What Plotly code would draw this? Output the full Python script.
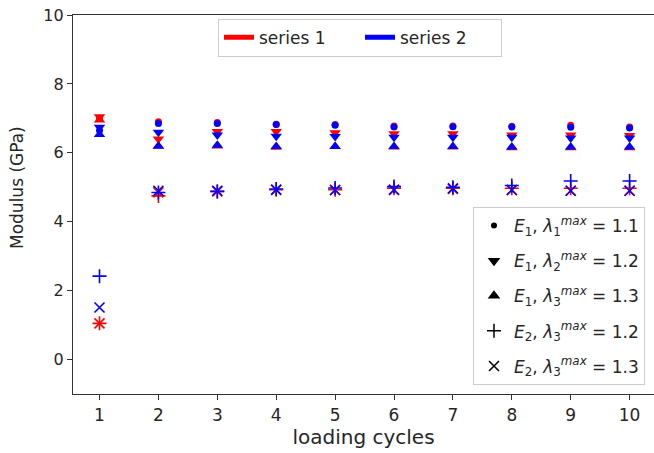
import plotly.graph_objects as go

cycles = [1, 2, 3, 4, 5, 6, 7, 8, 9, 10]

# series 1 (red)
s1_E1_l1 = [7.00, 6.90, 6.88, 6.83, 6.82, 6.78, 6.78, 6.77, 6.80, 6.75]
s1_E1_l2 = [7.05, 6.40, 6.62, 6.62, 6.58, 6.55, 6.55, 6.52, 6.52, 6.50]
s1_E1_l3 = [6.95, 6.20, 6.20, 6.16, 6.18, 6.17, 6.17, 6.15, 6.15, 6.15]
s1_E2_l2 = [1.05, 4.75, 4.88, 4.93, 4.93, 4.97, 4.97, 4.97, 4.97, 4.97]
s1_E2_l3 = [1.05, 4.85, 4.88, 4.92, 4.92, 4.93, 4.95, 4.92, 4.90, 4.90]

# series 2 (blue)
s2_E1_l1 = [6.65, 6.85, 6.85, 6.82, 6.80, 6.75, 6.76, 6.75, 6.74, 6.72]
s2_E1_l2 = [6.74, 6.60, 6.52, 6.48, 6.47, 6.45, 6.45, 6.45, 6.43, 6.43]
s2_E1_l3 = [6.53, 6.19, 6.22, 6.18, 6.18, 6.18, 6.18, 6.17, 6.17, 6.17]
s2_E2_l2 = [2.42, 4.85, 4.88, 4.95, 4.98, 5.02, 5.00, 5.05, 5.18, 5.18]
s2_E2_l3 = [1.51, 4.90, 4.90, 4.93, 4.92, 4.92, 4.97, 4.92, 4.90, 4.90]

series_names = ["series 1", "series 2"]
series_colors = ["#ff0000", "#0000ff"]

marker_labels = [
    "<i>E</i><sub>1</sub>, <i>λ</i><sub>1</sub><sup><i>max</i></sup> = 1.1",
    "<i>E</i><sub>1</sub>, <i>λ</i><sub>2</sub><sup><i>max</i></sup> = 1.2",
    "<i>E</i><sub>1</sub>, <i>λ</i><sub>3</sub><sup><i>max</i></sup> = 1.3",
    "<i>E</i><sub>2</sub>, <i>λ</i><sub>3</sub><sup><i>max</i></sup> = 1.2",
    "<i>E</i><sub>2</sub>, <i>λ</i><sub>3</sub><sup><i>max</i></sup> = 1.3",
]
symbols = ["circle", "triangle-down", "triangle-up", "cross-thin", "x-thin"]
sizes = [7, 10, 10, 10, 10]

FONT = "DejaVu Sans"
fig = go.Figure()

all_series = [
    [s1_E1_l1, s1_E1_l2, s1_E1_l3, s1_E2_l2, s1_E2_l3],
    [s2_E1_l1, s2_E1_l2, s2_E1_l3, s2_E2_l2, s2_E2_l3],
]

for color, data in zip(series_colors, all_series):
    for sym, sz, ys in zip(symbols, sizes, data):
        thin = sym.endswith("-thin")
        fig.add_trace(go.Scatter(
            x=cycles, y=ys, mode="markers", showlegend=False,
            marker=dict(symbol=sym, size=sz, color=color,
                        line=dict(width=1.6 if thin else 0, color=color)),
        ))

# legend 1: series colours
for name, color in zip(series_names, series_colors):
    fig.add_trace(go.Scatter(
        x=[None], y=[None], mode="lines", name=name,
        line=dict(color=color, width=5), legend="legend",
    ))

# legend 2: marker styles
leg_sizes = [6, 11, 11, 10, 10]
for i, (lab, sym, sz) in enumerate(zip(marker_labels, symbols, leg_sizes)):
    thin = sym.endswith("-thin")
    fig.add_trace(go.Scatter(
        x=[None], y=[None], mode="markers", name=lab,
        marker=dict(symbol=sym, size=sz, color="black",
                    line=dict(width=1.5 if thin else 0, color="black")),
        legend="legend2", legendgroup=f"g{i}",
    ))

axis_col = "#333333"
fig.update_layout(
    width=654, height=453,
    margin=dict(l=73, r=0, t=15, b=59),
    paper_bgcolor="white", plot_bgcolor="white",
    font=dict(family=FONT, color="#262626", size=16),
    xaxis=dict(
        range=[0.55, 10.414], tickvals=cycles, ticktext=[str(c) for c in cycles],
        showgrid=False, zeroline=False, showline=True, linecolor=axis_col,
        linewidth=1.3, mirror=True, ticks="outside", ticklen=5, tickcolor=axis_col,
        tickfont=dict(size=17),
        title=dict(text="loading cycles", font=dict(size=20), standoff=6),
    ),
    yaxis=dict(
        range=[-1, 10], tickvals=[0, 2, 4, 6, 8, 10],
        showgrid=False, zeroline=False, showline=True, linecolor=axis_col,
        linewidth=1.3, mirror=False, ticks="outside", ticklen=5, tickcolor=axis_col,
        tickfont=dict(size=16),
    ),
    annotations=[dict(
        text="Modulus (GPa)", textangle=-90, xref="paper", yref="paper",
        x=-68 / 581, xanchor="left", y=(394 - 188) / 379, yanchor="middle",
        showarrow=False, font=dict(size=17, color="#262626"),
    )],
    legend=dict(
        orientation="h", x=0.494, xanchor="center", y=0.99, yanchor="top",
        bordercolor="#cccccc", borderwidth=1, bgcolor="white",
        font=dict(size=17, color="#262626"), entrywidth=96,
    ),
    legend2=dict(
        x=0.9845, xanchor="right", y=0.0237, yanchor="bottom",
        bordercolor="#cccccc", borderwidth=1, bgcolor="white",
        font=dict(size=17, color="#262626"), traceorder="grouped",
        tracegroupgap=10,
    ),
)

fig.write_html("out.html")
